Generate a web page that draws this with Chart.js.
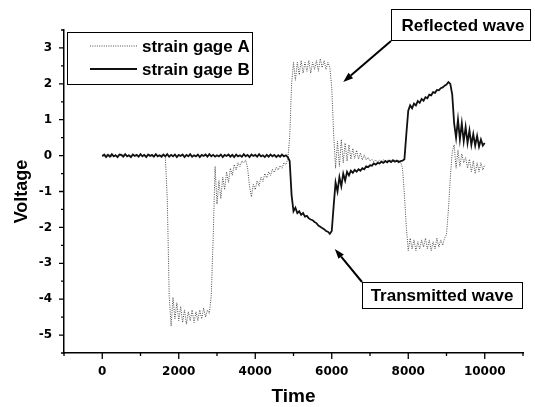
<!DOCTYPE html>
<html lang="en">
<head>
<meta charset="UTF-8" />
<title>Strain gage signals</title>
<script src="https://cdn.jsdelivr.net/npm/chart.js"></script>
<style>
  body { margin: 0; background: #fff; }
  #wrap { width: 535px; height: 407px; }
</style>
</head>
<body>
<div id="wrap"><canvas id="waveChart" width="535" height="407"></canvas></div>
<script>
  // sample times (step 50)
  const time = [
    0, 50, 100, 150, 200, 250, 300, 350, 400, 450,
    500, 550, 600, 650, 700, 750, 800, 850, 900, 950,
    1000, 1050, 1100, 1150, 1200, 1250, 1300, 1350, 1400, 1450,
    1500, 1550, 1600, 1650, 1700, 1750, 1800, 1850, 1900, 1950,
    2000, 2050, 2100, 2150, 2200, 2250, 2300, 2350, 2400, 2450,
    2500, 2550, 2600, 2650, 2700, 2750, 2800, 2850, 2900, 2950,
    3000, 3050, 3100, 3150, 3200, 3250, 3300, 3350, 3400, 3450,
    3500, 3550, 3600, 3650, 3700, 3750, 3800, 3850, 3900, 3950,
    4000, 4050, 4100, 4150, 4200, 4250, 4300, 4350, 4400, 4450,
    4500, 4550, 4600, 4650, 4700, 4750, 4800, 4850, 4900, 4950,
    5000, 5050, 5100, 5150, 5200, 5250, 5300, 5350, 5400, 5450,
    5500, 5550, 5600, 5650, 5700, 5750, 5800, 5850, 5900, 5950,
    6000, 6050, 6100, 6150, 6200, 6250, 6300, 6350, 6400, 6450,
    6500, 6550, 6600, 6650, 6700, 6750, 6800, 6850, 6900, 6950,
    7000, 7050, 7100, 7150, 7200, 7250, 7300, 7350, 7400, 7450,
    7500, 7550, 7600, 7650, 7700, 7750, 7800, 7850, 7900, 7950,
    8000, 8050, 8100, 8150, 8200, 8250, 8300, 8350, 8400, 8450,
    8500, 8550, 8600, 8650, 8700, 8750, 8800, 8850, 8900, 8950,
    9000, 9050, 9100, 9150, 9200, 9250, 9300, 9350, 9400, 9450,
    9500, 9550, 9600, 9650, 9700, 9750, 9800, 9850, 9900, 9950,
    10000
  ];

  // strain gage A (incident bar)
  const gageA = [
    0.02, -0.02, 0.03, -0.01, 0.02, -0.03, 0.01, 0.03, -0.02, 0.02,
    -0.01, 0.03, -0.02, 0.01, 0.02, -0.03, 0.02, 0.00, 0.03, -0.02,
    0.02, -0.01, 0.03, -0.02, 0.01, 0.03, -0.02, 0.02, -0.01, 0.03,
    -0.02, 0.02, 0.00, -0.05, -1.2, -3.9, -4.75, -3.95, -4.55, -4.1,
    -4.6, -4.2, -4.65, -4.3, -4.7, -4.35, -4.6, -4.3, -4.65, -4.35,
    -4.6, -4.3, -4.55, -4.25, -4.5, -4.3, -4.4, -3.9, -2.3, -0.3,
    -1.35, -0.7, -1.2, -0.6, -0.95, -0.45, -0.75, -0.35, -0.55, -0.25,
    -0.4, -0.2, -0.3, -0.15, -0.2, -0.12, -0.35, -0.85, -1.15, -0.8,
    -0.95, -0.7, -0.85, -0.6, -0.72, -0.5, -0.62, -0.45, -0.55, -0.38,
    -0.47, -0.32, -0.4, -0.28, -0.35, -0.2, -0.25, -0.1, 0.5, 2.0,
    2.6, 2.1, 2.6, 2.25, 2.65, 2.3, 2.6, 2.35, 2.65, 2.3,
    2.6, 2.4, 2.65, 2.35, 2.7, 2.45, 2.65, 2.4, 2.6, 2.45,
    1.9, 0.6, -0.35, 0.4, -0.3, 0.45, -0.2, 0.35, -0.15, 0.3,
    -0.1, 0.2, -0.08, 0.15, -0.1, 0.08, -0.12, 0.02, -0.12, -0.05,
    -0.15, -0.1, -0.18, -0.12, -0.18, -0.13, -0.17, -0.12, -0.16, -0.13,
    -0.17, -0.12, -0.16, -0.13, -0.17, -0.14, -0.18, -0.35, -1.1, -2.0,
    -2.65, -2.3, -2.6, -2.35, -2.65, -2.4, -2.6, -2.35, -2.55, -2.3,
    -2.6, -2.35, -2.65, -2.4, -2.6, -2.3, -2.55, -2.35, -2.5, -2.3,
    -2.2, -1.5, -0.6, 0.1, 0.3, -0.35, 0.15, -0.3, 0.05, -0.2,
    -0.05, -0.35, -0.1, -0.45, -0.15, -0.5, -0.2, -0.45, -0.2, -0.4,
    -0.25
  ];

  // strain gage B (transmitted bar)
  const gageB = [
    -0.02, 0.03, -0.04, 0.02, -0.03, 0.04, -0.02, 0.01, -0.04, 0.03,
    0.02, -0.03, 0.04, -0.02, 0.01, -0.04, 0.03, -0.01, 0.02, -0.03,
    0.04, -0.02, 0.02, -0.04, 0.03, -0.01, 0.02, -0.03, 0.04, -0.02,
    0.01, -0.03, 0.03, -0.02, 0.04, -0.03, 0.02, -0.02, 0.03, -0.04,
    0.02, -0.01, 0.03, -0.04, 0.02, -0.02, 0.04, -0.03, 0.01, -0.02,
    0.03, -0.04, 0.02, -0.01, 0.03, -0.03, 0.04, -0.02, 0.02, -0.03,
    0.01, -0.02, 0.03, -0.04, 0.02, -0.01, 0.03, -0.03, 0.02, -0.04,
    0.03, -0.02, 0.01, -0.03, 0.04, -0.02, 0.02, -0.04, 0.03, -0.01,
    0.02, -0.03, 0.04, -0.02, 0.01, -0.04, 0.02, -0.03, 0.03, -0.02,
    0.02, -0.04, 0.01, -0.03, 0.03, -0.02, 0.01, -0.04, -0.15, -1.1,
    -1.55, -1.45, -1.6, -1.55, -1.65, -1.6, -1.7, -1.68, -1.75, -1.78,
    -1.8, -1.85, -1.88, -1.95, -1.98, -2.02, -2.05, -2.1, -2.12, -2.18,
    -2.1, -1.4, -0.75, -1.0, -0.6, -0.85, -0.5, -0.7, -0.45, -0.55,
    -0.42, -0.48, -0.4, -0.45, -0.38, -0.42, -0.35, -0.38, -0.3, -0.32,
    -0.27, -0.28, -0.22, -0.25, -0.2, -0.22, -0.17, -0.2, -0.15, -0.19,
    -0.14, -0.18, -0.13, -0.17, -0.14, -0.18, -0.15, -0.14, -0.1, 0.6,
    1.25, 1.4, 1.32, 1.45, 1.4, 1.52, 1.47, 1.58, 1.53, 1.63,
    1.6, 1.7, 1.68, 1.77, 1.75, 1.83, 1.82, 1.88, 1.9, 1.95,
    1.98, 2.05, 2.0, 1.7, 0.9, 0.5, 1.0, 0.45, 0.9, 0.4,
    0.8, 0.35, 0.7, 0.3, 0.6, 0.28, 0.55, 0.25, 0.45, 0.28,
    0.35
  ];

  const voltTicks = [-5, -4, -3, -2, -1, 0, 1, 2, 3];
  const timeTicks = [0, 2000, 4000, 6000, 8000, 10000];

  const boldSans = '"Liberation Sans", Arial, sans-serif';
  const tickFont = { family: '"DejaVu Sans", sans-serif', size: 12, weight: 'bold' };

  // major + minor tick marks, drawn outside the axes
  const tickMarks = {
    id: 'tickMarks',
    afterDraw(chart) {
      const { ctx, chartArea, scales: { x, y } } = chart;
      const yMinor = [-5.5].concat(voltTicks.map(v => v + 0.5));
      const xMinor = [-1000].concat(timeTicks.map(v => v + 1000));
      ctx.save();
      ctx.strokeStyle = '#000';
      ctx.lineWidth = 1.3;
      ctx.beginPath();
      voltTicks.forEach(v => {
        const py = y.getPixelForValue(v);
        ctx.moveTo(chartArea.left, py); ctx.lineTo(chartArea.left - 5, py);
      });
      yMinor.forEach(v => {
        const py = y.getPixelForValue(v);
        ctx.moveTo(chartArea.left, py); ctx.lineTo(chartArea.left - 3, py);
      });
      timeTicks.forEach(v => {
        const px = x.getPixelForValue(v);
        ctx.moveTo(px, chartArea.bottom); ctx.lineTo(px, chartArea.bottom + 6);
      });
      xMinor.forEach(v => {
        const px = x.getPixelForValue(v);
        ctx.moveTo(px, chartArea.bottom); ctx.lineTo(px, chartArea.bottom + 3);
      });
      ctx.stroke();
      ctx.restore();
    }
  };

  // boxed legend in the upper left corner of the plot
  const legendBox = {
    id: 'legendBox',
    afterDraw(chart) {
      const ctx = chart.ctx;
      ctx.save();
      ctx.strokeStyle = '#000';
      ctx.lineWidth = 1;
      ctx.strokeRect(67.5, 32.5, 185, 52);
      ctx.font = 'bold 17px ' + boldSans;
      ctx.textBaseline = 'middle';
      ctx.fillStyle = '#000';
      chart.data.datasets.forEach((ds, i) => {
        const ly = 46 + i * 23;
        ctx.save();
        ctx.strokeStyle = ds.borderColor;
        ctx.lineWidth = ds.borderWidth;
        ctx.setLineDash(ds.borderDash || []);
        ctx.beginPath();
        ctx.moveTo(90, ly); ctx.lineTo(137, ly);
        ctx.stroke();
        ctx.restore();
        ctx.fillText(ds.label, 142, ly + 1);
      });
      ctx.restore();
    }
  };

  function arrow(ctx, x0, y0, x1, y1) {
    const ang = Math.atan2(y1 - y0, x1 - x0);
    const len = 10, half = 3.5;
    const bx = x1 - Math.cos(ang) * len, by = y1 - Math.sin(ang) * len;
    ctx.beginPath();
    ctx.moveTo(x0, y0); ctx.lineTo(bx, by);
    ctx.stroke();
    ctx.beginPath();
    ctx.moveTo(x1, y1);
    ctx.lineTo(bx + Math.sin(ang) * half, by - Math.cos(ang) * half);
    ctx.lineTo(bx - Math.sin(ang) * half, by + Math.cos(ang) * half);
    ctx.closePath();
    ctx.fill();
  }

  // "Reflected wave" / "Transmitted wave" call-outs
  const callouts = {
    id: 'callouts',
    afterDraw(chart) {
      const { ctx, scales: { x, y } } = chart;
      ctx.save();
      ctx.strokeStyle = '#000';
      ctx.fillStyle = '#000';
      ctx.lineWidth = 1;
      ctx.strokeRect(391.5, 9.5, 139, 31);
      ctx.strokeRect(362.5, 282.5, 160, 26);
      ctx.font = 'bold 17px ' + boldSans;
      ctx.textAlign = 'center';
      ctx.textBaseline = 'middle';
      ctx.fillText('Reflected wave', 463, 26);
      ctx.fillText('Transmitted wave', 442, 296);
      ctx.lineWidth = 2;
      arrow(ctx, 391, 41, x.getPixelForValue(6300), y.getPixelForValue(2.05));
      arrow(ctx, 362, 282, x.getPixelForValue(6080), y.getPixelForValue(-2.6));
      ctx.restore();
    }
  };

  new Chart(document.getElementById('waveChart'), {
    type: 'line',
    data: {
      labels: time,
      datasets: [
        {
          label: 'strain gage A',
          data: gageA,
          borderColor: '#4a4a4a',
          borderWidth: 1,
          borderDash: [1, 1.3],
          pointRadius: 0,
          order: 1
        },
        {
          label: 'strain gage B',
          data: gageB,
          borderColor: '#111',
          borderWidth: 1.8,
          pointRadius: 0,
          order: 0
        }
      ]
    },
    options: {
      responsive: false,
      animation: false,
      devicePixelRatio: 1,
      layout: { padding: { top: 30, right: 7, left: 0, bottom: 0 } },
      plugins: { legend: { display: false }, tooltip: { enabled: false } },
      scales: {
        x: {
          type: 'linear',
          min: -1000,
          max: 11000,
          grid: { display: false, drawTicks: false },
          border: { display: true, color: '#000', width: 1.5 },
          ticks: {
            stepSize: 1000,
            autoSkip: false,
            maxRotation: 0,
            padding: 12,
            color: '#000',
            font: tickFont,
            callback: v => timeTicks.includes(v) ? String(v) : ''
          },
          title: {
            display: true,
            text: 'Time',
            color: '#000',
            font: { family: boldSans, size: 19, weight: 'bold', lineHeight: 1 },
            padding: { top: 0, bottom: 1 }
          },
          afterFit(scale) { scale.height = 54; }
        },
        y: {
          min: -5.5,
          max: 3.5,
          grid: { display: false, drawTicks: false },
          border: { display: true, color: '#000', width: 1.5 },
          ticks: {
            stepSize: 0.5,
            autoSkip: false,
            padding: 12,
            color: '#000',
            font: tickFont,
            callback: v => voltTicks.includes(v) ? String(v) : ''
          },
          title: {
            display: true,
            text: 'Voltage',
            color: '#000',
            font: { family: boldSans, size: 18, weight: 'bold', lineHeight: 1 },
            padding: { top: 13, bottom: 0 }
          },
          afterFit(scale) { scale.width = 64; }
        }
      }
    },
    plugins: [tickMarks, legendBox, callouts]
  });
</script>
</body>
</html>
